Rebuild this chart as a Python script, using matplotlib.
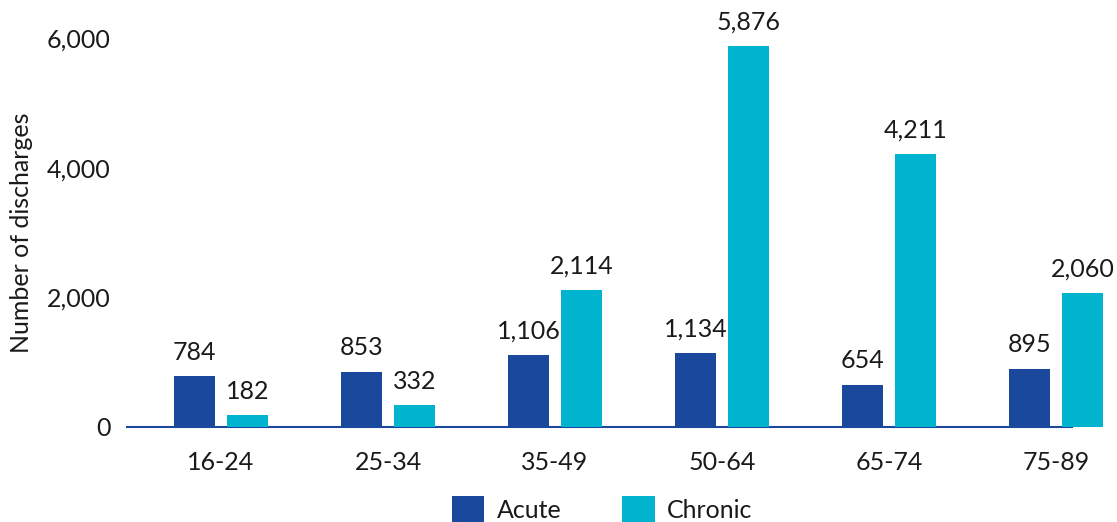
import numpy as np
import matplotlib.pyplot as plt
from matplotlib.ticker import FuncFormatter

# Podaci
age_groups = ['16-24', '25-34', '35-49', '50-64', '65-74', '75-89']
acute = [784, 853, 1106, 1134, 654, 895]
chronic = [182, 332, 2114, 5876, 4211, 2060]

plt.rcParams['font.family'] = ['Lato', 'DejaVu Sans']
text_color = '#1a1a1a'
acute_color = '#1a489c'
chronic_color = '#00b4cf'
fs = 18

fig = plt.figure(figsize=(11.17, 5.22), dpi=100)
ax = fig.add_axes([0.1137, 0.182, 0.846, 0.745])

x = np.arange(len(age_groups))
w = 0.2455
off = 0.159

b1 = ax.bar(x - off, acute, w, color=acute_color, label='Acute', clip_on=False, zorder=3)
b2 = ax.bar(x + off, chronic, w, color=chronic_color, label='Chronic', clip_on=False, zorder=3)

for bars, vals in [(b1, acute), (b2, chronic)]:
    for r, v in zip(bars, vals):
        ax.annotate(f'{v:,}', (r.get_x() + r.get_width() / 2, v),
                    xytext=(0, 9), textcoords='offset points', annotation_clip=False,
                    ha='center', va='bottom', fontsize=fs, color=text_color)

ax.set_xlim(-0.563, 5.096)
ax.set_ylim(0, 6000)
ax.set_yticks([0, 2000, 4000, 6000])
ax.yaxis.set_major_formatter(FuncFormatter(lambda v, p: f'{int(v):,}'))
ax.set_xticks(x)
ax.set_xticklabels(age_groups)
ax.tick_params(axis='both', length=0, labelsize=fs, labelcolor=text_color)
ax.tick_params(axis='x', pad=17)
ax.tick_params(axis='y', pad=12)

for s in ['top', 'right', 'left']:
    ax.spines[s].set_visible(False)
ax.spines['bottom'].set_color(acute_color)
ax.spines['bottom'].set_linewidth(1.5)
ax.spines['bottom'].set_zorder(2)

ax.set_ylabel('Number of discharges', fontsize=fs, color=text_color, labelpad=10)

leg = fig.legend(handles=[b1, b2], loc='lower center', bbox_to_anchor=(0.539, -0.045),
                 ncol=2, frameon=False, fontsize=fs, handlelength=1.3, handleheight=1.3,
                 columnspacing=2.44, handletextpad=0.5)
for t in leg.get_texts():
    t.set_color(text_color)

plt.savefig('out.png', dpi=100)
